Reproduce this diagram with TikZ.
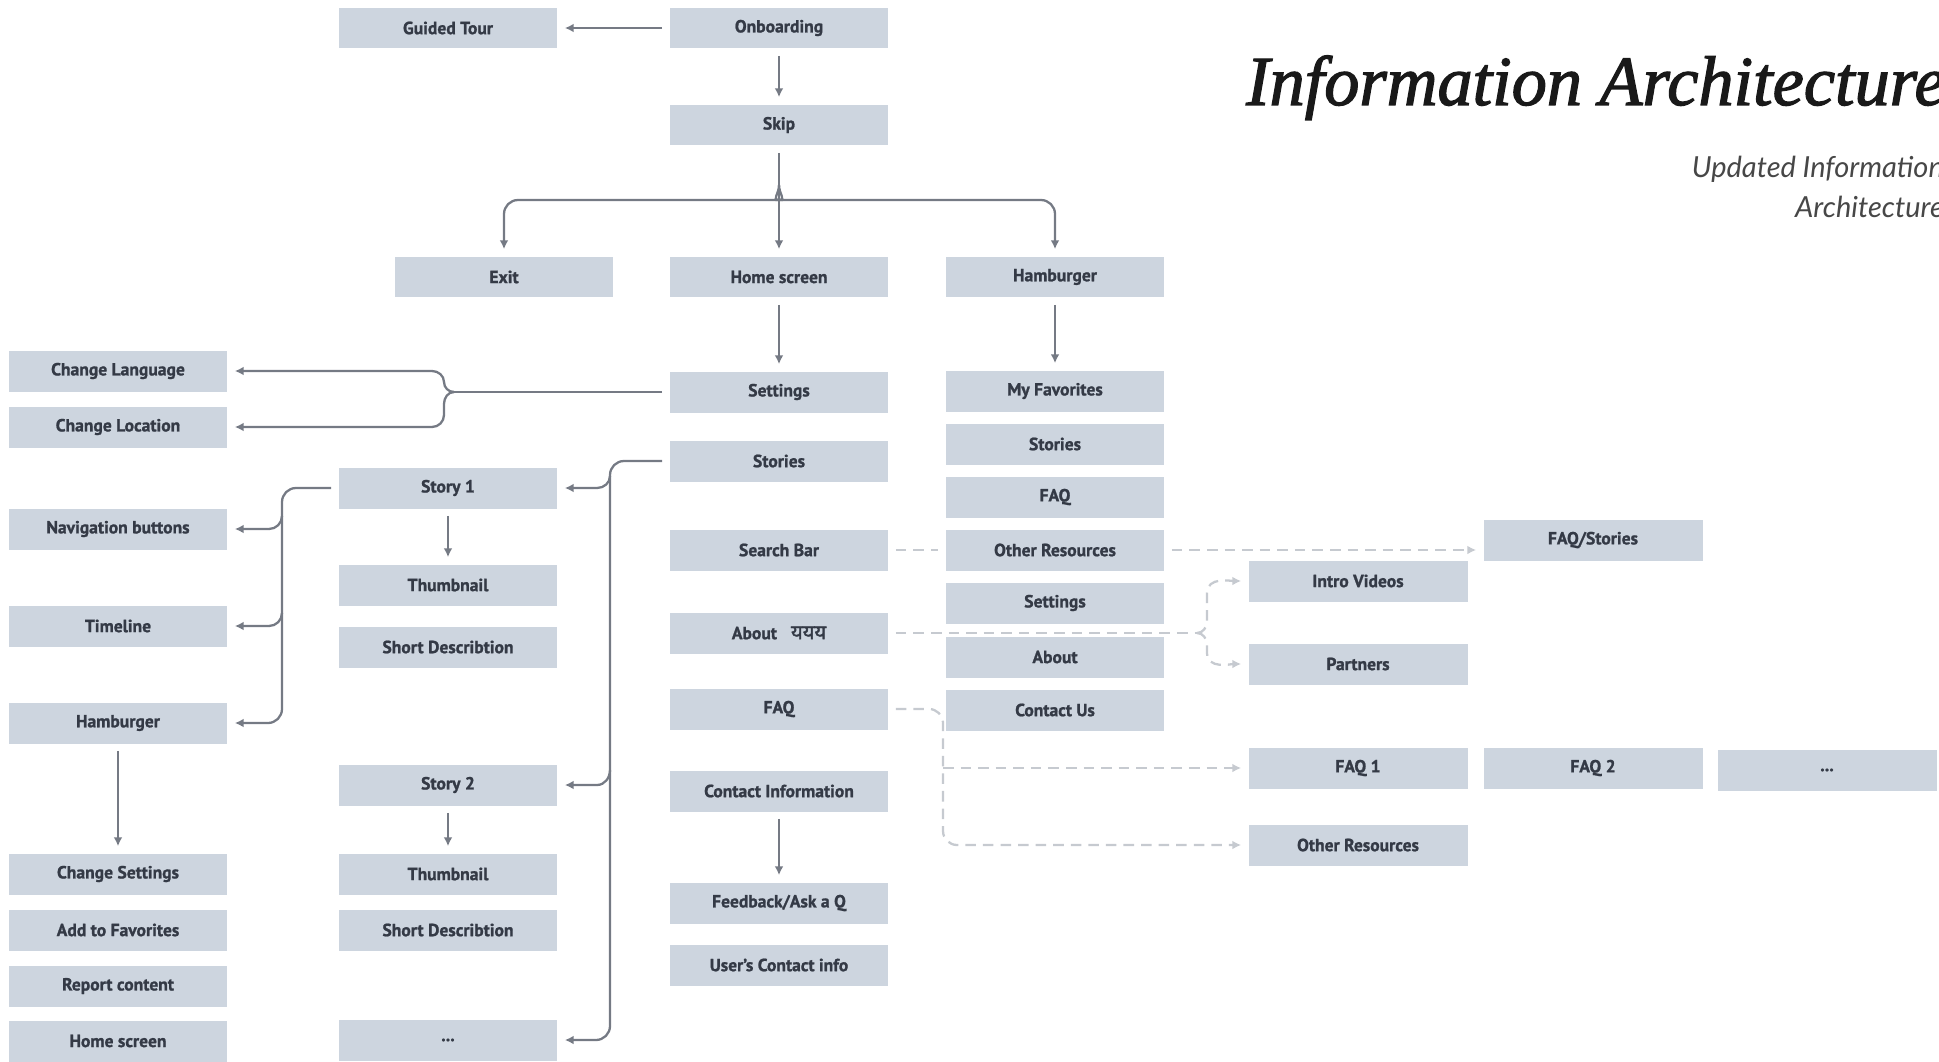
\documentclass[tikz,border=0pt]{standalone}
\usepackage{fontspec}
\setmainfont{PT Sans}[BoldFeatures={FakeBold=1.2}]
\newfontfamily\titlefont{Liberation Serif}[ItalicFeatures={FakeBold=1.8}]
\newfontfamily\subfont{Lato}
\newfontfamily\devfont[Script=Devanagari, Scale=1.15, FakeBold=2]{Noto Sans}
\usetikzlibrary{positioning}
\usetikzlibrary{arrows.meta}
\usetikzlibrary{backgrounds}
\definecolor{boxfill}{HTML}{CDD5DF}
\definecolor{boxtext}{HTML}{343A46}
\definecolor{wiregray}{HTML}{757A84}
\definecolor{dashgray}{HTML}{C6CAD0}

\tikzset{
  box/.style={fill=boxfill, text=boxtext, font=\bfseries\fontsize{10}{12}\selectfont,
    minimum width=4.38cm, minimum height=0.82cm, inner sep=0pt},
  wire/.style={draw=wiregray, line width=1.3pt},
  link/.style={wire, -{Latex[length=5pt,width=5pt]}, shorten >=4pt, shorten <=4pt},
  dline/.style={draw=dashgray, line width=1.3pt, dash pattern=on 6pt off 4pt},
  dlink/.style={dline, -{Latex[length=5pt,width=5pt]}, shorten >=4pt},
}

\begin{document}
\begin{tikzpicture}[x=0.02cm, y=-0.02cm]
  \useasboundingbox (0,0) rectangle (1939,1061);
  \clip (0,0) rectangle (1939,1061);

  % title
  \node[anchor=base west, font=\titlefont\itshape\fontsize{40}{48}\selectfont, text=black!90]
    (title) at (1240,105) {Information Architecture};
  \node[anchor=north east, align=right, font=\subfont\itshape\fontsize{16.5}{23}\selectfont, text=black!72]
    (subtitle) at (1950,150) {Updated Information\\Architecture};

  % top
  \node[box] (onboard) at (779,28) {Onboarding};
  \node[box] (guided) at (448,28) {Guided Tour};
  \node[box] (skip) at (779,125) {Skip};
  \node[box] (exit) at (504,277) {Exit};
  \node[box] (home) at (779,277) {Home screen};
  \node[box] (hamb) at (1055,277) {Hamburger};

  % home screen column
  \node[box] (settings) at (779,392) {Settings};
  \node[box] (stories) at (779,461) {Stories};
  \node[box] (search) at (779,550) {Search Bar};
  \node[box] (about) at (779,633) {About\hspace{0.8em}{\devfont ययय}};
  \node[box] (faq) at (779,709) {FAQ};
  \node[box] (contact) at (779,791) {Contact Information};
  \node[box] (feedback) at (779,903) {Feedback/Ask a Q};
  \node[box] (userinfo) at (779,965) {User's Contact info};

  % hamburger column
  \node[box] (favs) at (1055,391) {My Favorites};
  \node[box] (hstories) at (1055,444) {Stories};
  \node[box] (hfaq) at (1055,497) {FAQ};
  \node[box] (hres) at (1055,550) {Other Resources};
  \node[box] (hset) at (1055,603) {Settings};
  \node[box] (habout) at (1055,657) {About};
  \node[box] (hcontact) at (1055,710) {Contact Us};

  % right side
  \node[box] (faqst) at (1593,540) {FAQ/Stories};
  \node[box] (intro) at (1358,581) {Intro Videos};
  \node[box] (partners) at (1358,664) {Partners};
  \node[box] (faq1) at (1358,768) {FAQ 1};
  \node[box] (faq2) at (1593,768) {FAQ 2};
  \node[box] (faqdots) at (1827,770) {...};
  \node[box] (res2) at (1358,845) {Other Resources};

  % left column
  \node[box] (lang) at (118,371) {Change Language};
  \node[box] (loc) at (118,427) {Change Location};
  \node[box] (nav) at (118,529) {Navigation buttons};
  \node[box] (timeline) at (118,626) {Timeline};
  \node[box] (smenu) at (118,723) {Hamburger};
  \node[box] (chset) at (118,874) {Change Settings};
  \node[box] (addfav) at (118,930) {Add to Favorites};
  \node[box] (report) at (118,986) {Report content};
  \node[box] (shome) at (118,1041) {Home screen};

  % stories column
  \node[box] (story1) at (448,488) {Story 1};
  \node[box] (thumb1) at (448,585) {Thumbnail};
  \node[box] (desc1) at (448,647) {Short Describtion};
  \node[box] (story2) at (448,785) {Story 2};
  \node[box] (thumb2) at (448,874) {Thumbnail};
  \node[box] (desc2) at (448,930) {Short Describtion};
  \node[box] (sdots) at (448,1040) {...};

  % solid arrows
  \draw[link] (onboard) -- (guided);
  \draw[link] (onboard) -- (skip);
  \draw[link] (skip) -- (home);
  \coordinate (fork) at (779,185);
  \draw[link, shorten <=0pt, rounded corners=8pt] (fork) to[out=-90,in=0] ++(-15,15) -| (exit);
  \draw[link, shorten <=0pt, rounded corners=8pt] (fork) to[out=-90,in=180] ++(15,15) -| (hamb);
  \draw[link] (home) -- (settings);
  \draw[link] (hamb) -- (favs);

  \coordinate (setfork) at (454,392);
  \draw[wire, shorten <=4pt] (settings) -- (setfork);
  \draw[link, shorten <=0pt] (setfork) to[out=180,in=-90] ++(-10,-10) to[out=90,in=0] ++(-12,-11) -- (lang);
  \draw[link, shorten <=0pt] (setfork) to[out=180,in=90] ++(-10,12) -- ++(0,11) to[out=-90,in=0] ++(-12,12) -- (loc);

  \coordinate (trunkC) at (610,1040);
  \draw[link, rounded corners=8pt] (stories) -| (trunkC) -- (sdots);
  \coordinate (jst1) at (610,476);
  \coordinate (jst2) at (610,770);
  \draw[link, shorten <=0pt] (jst1) to[out=-90,in=0] ++(-13,12) -- (story1);
  \draw[link, shorten <=0pt] (jst2) to[out=-90,in=0] ++(-13,15) -- (story2);

  \coordinate (trunkB) at (282,723);
  \draw[link, rounded corners=8pt] (story1) -| (trunkB) -- (smenu);
  \coordinate (jnav) at (282,516);
  \coordinate (jtl) at (282,613);
  \draw[link, shorten <=0pt] (jnav) to[out=-90,in=0] ++(-13,13) -- (nav);
  \draw[link, shorten <=0pt] (jtl) to[out=-90,in=0] ++(-13,13) -- (timeline);

  \draw[link] (smenu) -- (chset);
  \draw[link] (story1) -- (thumb1);
  \draw[link] (story2) -- (thumb2);
  \draw[link] (contact) -- (feedback);

  % dashed links
  \begin{scope}[on background layer]
    \draw[dline, shorten <=4pt, shorten >=4pt] (search) -- (hres);
    \draw[dlink, shorten <=4pt] (hres) -- (hres.east -| faqst.west);
    \coordinate (jab) at (1197,633);
    \draw[dline, shorten <=4pt] (about) -- (jab);
    \draw[dlink] (jab) to[out=0,in=-90] ++(10,-12) -- ++(0,-28) to[out=90,in=180] (intro.west);
    \draw[dlink] (jab) to[out=0,in=90] ++(10,12) -- ++(0,8) to[out=-90,in=180] (partners.west);
    \coordinate (jfq) at (943,709);
    \draw[dlink, shorten <=4pt, rounded corners=8pt] (faq) -- (jfq) |- (res2);
    \coordinate (jfq1) at (943,768);
    \draw[dlink] (jfq1) -- (faq1);
  \end{scope}
\end{tikzpicture}
\end{document}
